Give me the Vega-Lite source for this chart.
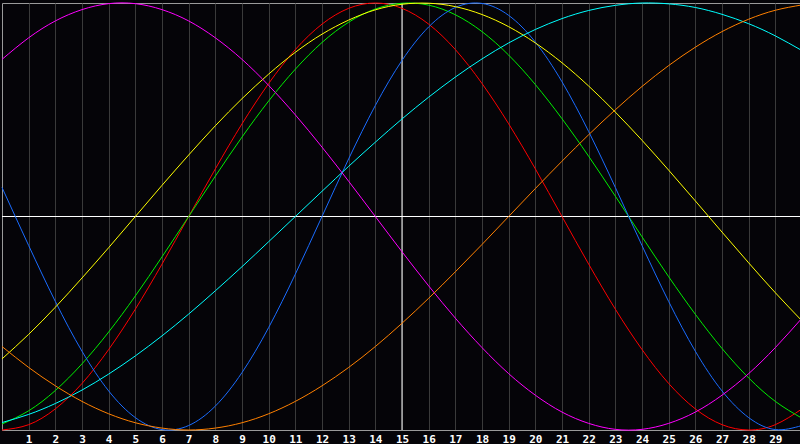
{
  "$schema": "https://vega.github.io/schema/vega-lite/v6.json",
  "width": 800,
  "height": 427,
  "padding": {"left": 0, "top": 0, "right": 0, "bottom": 0},
  "autosize": {"type": "pad"},
  "background": "#050408",
  "config": {
    "view": {"stroke": "#9a9a9a", "fill": "#050408"},
    "axisX": {
      "title": null,
      "format": "d",
      "grid": true,
      "gridColor": "#3a3a3a",
      "gridWidth": 1,
      "gridOpacity": 1,
      "ticks": false,
      "tickSize": 0,
      "domain": true,
      "domainColor": "#9a9a9a",
      "labelColor": "#ffffff",
      "labelFont": "DejaVu Sans Mono",
      "labelFontWeight": "bold",
      "labelFontSize": 11,
      "labelPadding": 3,
      "labelOverlap": false,
      "labelFlush": false,
      "labelBound": false
    }
  },
  "datasets": {
    "zero": [{"v": 0}],
    "today": [{"day": 15}],
    "curves": [
      {"day":0,"s":"red","v":-1},{"day":1,"s":"red","v":-0.975},{"day":2,"s":"red","v":-0.901},{"day":3,"s":"red","v":-0.782},{"day":4,"s":"red","v":-0.623},{"day":5,"s":"red","v":-0.434},{"day":6,"s":"red","v":-0.223},{"day":7,"s":"red","v":0},{"day":8,"s":"red","v":0.223},{"day":9,"s":"red","v":0.434},{"day":10,"s":"red","v":0.623},{"day":11,"s":"red","v":0.782},{"day":12,"s":"red","v":0.901},{"day":13,"s":"red","v":0.975},{"day":14,"s":"red","v":1},{"day":15,"s":"red","v":0.975},{"day":16,"s":"red","v":0.901},{"day":17,"s":"red","v":0.782},{"day":18,"s":"red","v":0.623},{"day":19,"s":"red","v":0.434},{"day":20,"s":"red","v":0.223},{"day":21,"s":"red","v":0},{"day":22,"s":"red","v":-0.223},{"day":23,"s":"red","v":-0.434},{"day":24,"s":"red","v":-0.623},{"day":25,"s":"red","v":-0.782},{"day":26,"s":"red","v":-0.901},{"day":27,"s":"red","v":-0.975},{"day":28,"s":"red","v":-1},{"day":29,"s":"red","v":-0.975},{"day":30,"s":"red","v":-0.901},
      {"day":0,"s":"green","v":-0.972},{"day":1,"s":"green","v":-0.910},{"day":2,"s":"green","v":-0.815},{"day":3,"s":"green","v":-0.690},{"day":4,"s":"green","v":-0.541},{"day":5,"s":"green","v":-0.372},{"day":6,"s":"green","v":-0.189},{"day":7,"s":"green","v":0},{"day":8,"s":"green","v":0.189},{"day":9,"s":"green","v":0.372},{"day":10,"s":"green","v":0.541},{"day":11,"s":"green","v":0.690},{"day":12,"s":"green","v":0.815},{"day":13,"s":"green","v":0.910},{"day":14,"s":"green","v":0.972},{"day":15,"s":"green","v":0.999},{"day":16,"s":"green","v":0.990},{"day":17,"s":"green","v":0.945},{"day":18,"s":"green","v":0.866},{"day":19,"s":"green","v":0.756},{"day":20,"s":"green","v":0.618},{"day":21,"s":"green","v":0.458},{"day":22,"s":"green","v":0.282},{"day":23,"s":"green","v":0.095},{"day":24,"s":"green","v":-0.095},{"day":25,"s":"green","v":-0.282},{"day":26,"s":"green","v":-0.458},{"day":27,"s":"green","v":-0.618},{"day":28,"s":"green","v":-0.756},{"day":29,"s":"green","v":-0.866},{"day":30,"s":"green","v":-0.945},
      {"day":0,"s":"blue","v":0.136},{"day":1,"s":"blue","v":-0.136},{"day":2,"s":"blue","v":-0.398},{"day":3,"s":"blue","v":-0.631},{"day":4,"s":"blue","v":-0.817},{"day":5,"s":"blue","v":-0.942},{"day":6,"s":"blue","v":-0.998},{"day":7,"s":"blue","v":-0.979},{"day":8,"s":"blue","v":-0.888},{"day":9,"s":"blue","v":-0.731},{"day":10,"s":"blue","v":-0.520},{"day":11,"s":"blue","v":-0.270},{"day":12,"s":"blue","v":0},{"day":13,"s":"blue","v":0.270},{"day":14,"s":"blue","v":0.520},{"day":15,"s":"blue","v":0.731},{"day":16,"s":"blue","v":0.888},{"day":17,"s":"blue","v":0.979},{"day":18,"s":"blue","v":0.998},{"day":19,"s":"blue","v":0.942},{"day":20,"s":"blue","v":0.817},{"day":21,"s":"blue","v":0.631},{"day":22,"s":"blue","v":0.398},{"day":23,"s":"blue","v":0.136},{"day":24,"s":"blue","v":-0.136},{"day":25,"s":"blue","v":-0.398},{"day":26,"s":"blue","v":-0.631},{"day":27,"s":"blue","v":-0.817},{"day":28,"s":"blue","v":-0.942},{"day":29,"s":"blue","v":-0.998},{"day":30,"s":"blue","v":-0.979},
      {"day":0,"s":"yellow","v":-0.667},{"day":1,"s":"yellow","v":-0.552},{"day":2,"s":"yellow","v":-0.425},{"day":3,"s":"yellow","v":-0.288},{"day":4,"s":"yellow","v":-0.146},{"day":5,"s":"yellow","v":0},{"day":6,"s":"yellow","v":0.146},{"day":7,"s":"yellow","v":0.288},{"day":8,"s":"yellow","v":0.425},{"day":9,"s":"yellow","v":0.552},{"day":10,"s":"yellow","v":0.667},{"day":11,"s":"yellow","v":0.769},{"day":12,"s":"yellow","v":0.854},{"day":13,"s":"yellow","v":0.920},{"day":14,"s":"yellow","v":0.968},{"day":15,"s":"yellow","v":0.994},{"day":16,"s":"yellow","v":0.999},{"day":17,"s":"yellow","v":0.983},{"day":18,"s":"yellow","v":0.946},{"day":19,"s":"yellow","v":0.889},{"day":20,"s":"yellow","v":0.813},{"day":21,"s":"yellow","v":0.720},{"day":22,"s":"yellow","v":0.611},{"day":23,"s":"yellow","v":0.489},{"day":24,"s":"yellow","v":0.357},{"day":25,"s":"yellow","v":0.217},{"day":26,"s":"yellow","v":0.073},{"day":27,"s":"yellow","v":-0.073},{"day":28,"s":"yellow","v":-0.217},{"day":29,"s":"yellow","v":-0.357},{"day":30,"s":"yellow","v":-0.489},
      {"day":0,"s":"cyan","v":-0.965},{"day":1,"s":"cyan","v":-0.927},{"day":2,"s":"cyan","v":-0.876},{"day":3,"s":"cyan","v":-0.813},{"day":4,"s":"cyan","v":-0.738},{"day":5,"s":"cyan","v":-0.653},{"day":6,"s":"cyan","v":-0.559},{"day":7,"s":"cyan","v":-0.457},{"day":8,"s":"cyan","v":-0.348},{"day":9,"s":"cyan","v":-0.235},{"day":10,"s":"cyan","v":-0.118},{"day":11,"s":"cyan","v":0},{"day":12,"s":"cyan","v":0.118},{"day":13,"s":"cyan","v":0.235},{"day":14,"s":"cyan","v":0.348},{"day":15,"s":"cyan","v":0.457},{"day":16,"s":"cyan","v":0.559},{"day":17,"s":"cyan","v":0.653},{"day":18,"s":"cyan","v":0.738},{"day":19,"s":"cyan","v":0.813},{"day":20,"s":"cyan","v":0.876},{"day":21,"s":"cyan","v":0.927},{"day":22,"s":"cyan","v":0.965},{"day":23,"s":"cyan","v":0.989},{"day":24,"s":"cyan","v":1.0},{"day":25,"s":"cyan","v":0.996},{"day":26,"s":"cyan","v":0.979},{"day":27,"s":"cyan","v":0.947},{"day":28,"s":"cyan","v":0.903},{"day":29,"s":"cyan","v":0.846},{"day":30,"s":"cyan","v":0.777},
      {"day":0,"s":"magenta","v":0.736},{"day":1,"s":"magenta","v":0.837},{"day":2,"s":"magenta","v":0.916},{"day":3,"s":"magenta","v":0.969},{"day":4,"s":"magenta","v":0.997},{"day":5,"s":"magenta","v":0.997},{"day":6,"s":"magenta","v":0.969},{"day":7,"s":"magenta","v":0.916},{"day":8,"s":"magenta","v":0.837},{"day":9,"s":"magenta","v":0.736},{"day":10,"s":"magenta","v":0.614},{"day":11,"s":"magenta","v":0.476},{"day":12,"s":"magenta","v":0.325},{"day":13,"s":"magenta","v":0.165},{"day":14,"s":"magenta","v":0},{"day":15,"s":"magenta","v":-0.165},{"day":16,"s":"magenta","v":-0.325},{"day":17,"s":"magenta","v":-0.476},{"day":18,"s":"magenta","v":-0.614},{"day":19,"s":"magenta","v":-0.736},{"day":20,"s":"magenta","v":-0.837},{"day":21,"s":"magenta","v":-0.916},{"day":22,"s":"magenta","v":-0.969},{"day":23,"s":"magenta","v":-0.997},{"day":24,"s":"magenta","v":-0.997},{"day":25,"s":"magenta","v":-0.969},{"day":26,"s":"magenta","v":-0.916},{"day":27,"s":"magenta","v":-0.837},{"day":28,"s":"magenta","v":-0.736},{"day":29,"s":"magenta","v":-0.614},{"day":30,"s":"magenta","v":-0.476},
      {"day":0,"s":"orange","v":-0.609},{"day":1,"s":"orange","v":-0.707},{"day":2,"s":"orange","v":-0.793},{"day":3,"s":"orange","v":-0.866},{"day":4,"s":"orange","v":-0.924},{"day":5,"s":"orange","v":-0.966},{"day":6,"s":"orange","v":-0.991},{"day":7,"s":"orange","v":-1},{"day":8,"s":"orange","v":-0.991},{"day":9,"s":"orange","v":-0.966},{"day":10,"s":"orange","v":-0.924},{"day":11,"s":"orange","v":-0.866},{"day":12,"s":"orange","v":-0.793},{"day":13,"s":"orange","v":-0.707},{"day":14,"s":"orange","v":-0.609},{"day":15,"s":"orange","v":-0.5},{"day":16,"s":"orange","v":-0.383},{"day":17,"s":"orange","v":-0.259},{"day":18,"s":"orange","v":-0.131},{"day":19,"s":"orange","v":0},{"day":20,"s":"orange","v":0.131},{"day":21,"s":"orange","v":0.259},{"day":22,"s":"orange","v":0.383},{"day":23,"s":"orange","v":0.5},{"day":24,"s":"orange","v":0.609},{"day":25,"s":"orange","v":0.707},{"day":26,"s":"orange","v":0.793},{"day":27,"s":"orange","v":0.866},{"day":28,"s":"orange","v":0.924},{"day":29,"s":"orange","v":0.966},{"day":30,"s":"orange","v":0.991}
    ]
  },
  "layer": [
    {
      "data": {"name": "zero"},
      "mark": {"type": "rule", "color": "#ffffff", "strokeWidth": 1},
      "encoding": {
        "y": {"field": "v", "type": "quantitative", "scale": {"domain": [-1, 1], "nice": false, "zero": false}, "axis": null}
      }
    },
    {
      "data": {"name": "today"},
      "mark": {"type": "rule", "color": "#ffffff", "strokeWidth": 1},
      "encoding": {
        "x": {
          "field": "day",
          "type": "quantitative",
          "scale": {"domain": [0, 30], "nice": false, "zero": false},
          "axis": {"values": [1,2,3,4,5,6,7,8,9,10,11,12,13,14,15,16,17,18,19,20,21,22,23,24,25,26,27,28,29], "labelOverlap": false}
        }
      }
    },
    {
      "data": {"name": "curves"},
      "mark": {"type": "line", "strokeWidth": 1, "interpolate": "natural"},
      "encoding": {
        "x": {
          "field": "day",
          "type": "quantitative",
          "scale": {"domain": [0, 30], "nice": false, "zero": false},
          "axis": {"values": [1,2,3,4,5,6,7,8,9,10,11,12,13,14,15,16,17,18,19,20,21,22,23,24,25,26,27,28,29], "labelOverlap": false}
        },
        "y": {"field": "v", "type": "quantitative", "scale": {"domain": [-1, 1], "nice": false, "zero": false}, "axis": null},
        "color": {
          "field": "s",
          "type": "nominal",
          "scale": {
            "domain": ["red", "green", "blue", "yellow", "cyan", "magenta", "orange"],
            "range": ["#ff0000", "#00ee00", "#1a6cff", "#ffff00", "#00ffff", "#ff00ff", "#ff8000"]
          },
          "legend": null
        }
      }
    }
  ]
}
